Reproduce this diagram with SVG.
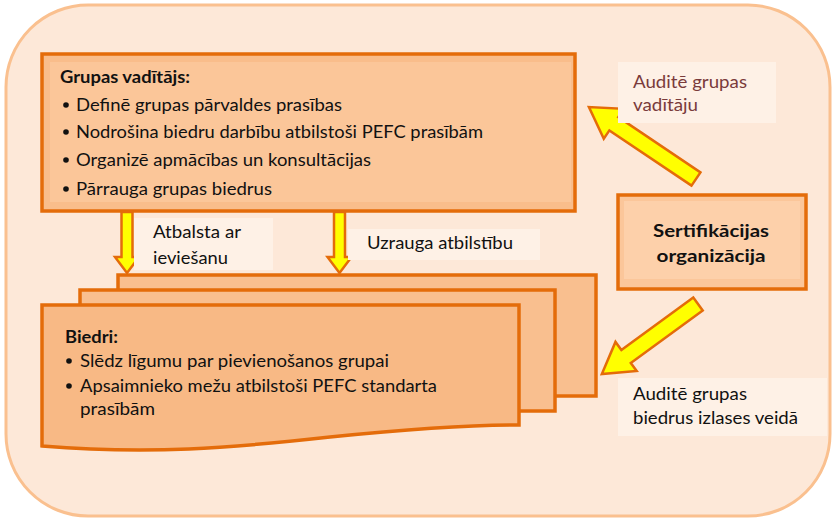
<svg xmlns="http://www.w3.org/2000/svg" width="833" height="520" viewBox="0 0 833 520">
<style>
.box{stroke:#e46c0a;stroke-width:3.5;}
.t{font-family:Lato,"Open Sans","Noto Sans",sans-serif;font-size:16.5px;fill:#111;}
.b{font-weight:bold;}
.arr{fill:#ffff00;stroke:#e46c0a;stroke-width:2.5;stroke-linejoin:miter;}
.lbl{fill:#fef1e6;}
</style>
<rect x="6" y="5" width="824" height="511" rx="82" fill="#fde8d8" stroke="#fac08f" stroke-width="3"/>

<g id="grupas-vaditajs">
<rect class="box" x="42" y="54" width="533" height="157" fill="#f9bd8b"/>
<rect x="50" y="62" width="521" height="140" fill="#fbc699"/>
<text class="t b" x="60" y="83" textLength="130" lengthAdjust="spacingAndGlyphs">Grupas vadītājs:</text>
<circle cx="66" cy="105" r="2.8" fill="#111"/>
<text class="t" x="76" y="111" textLength="266" lengthAdjust="spacingAndGlyphs">Definē grupas pārvaldes prasības</text>
<circle cx="66" cy="132" r="2.8" fill="#111"/>
<text class="t" x="76" y="138" textLength="407" lengthAdjust="spacingAndGlyphs">Nodrošina biedru darbību atbilstoši PEFC prasībām</text>
<circle cx="66" cy="160" r="2.8" fill="#111"/>
<text class="t" x="76" y="166" textLength="295" lengthAdjust="spacingAndGlyphs">Organizē apmācības un konsultācijas</text>
<circle cx="66" cy="189" r="2.8" fill="#111"/>
<text class="t" x="76" y="195" textLength="196" lengthAdjust="spacingAndGlyphs">Pārrauga grupas biedrus</text>
</g>

<g id="sertifikacijas-organizacija">
<rect class="box" x="618" y="195" width="188" height="94" fill="#fbc69a"/>
<rect x="624" y="201" width="176" height="78" fill="#fdd0aa"/>
<text class="t b" x="711" y="237" text-anchor="middle" font-size="19.5" textLength="116" lengthAdjust="spacingAndGlyphs">Sertifikācijas</text>
<text class="t b" x="711" y="262" text-anchor="middle" font-size="19.5" textLength="109" lengthAdjust="spacingAndGlyphs">organizācija</text>
</g>

<g id="biedri">
<rect class="box" x="118" y="275" width="478" height="121" fill="#f9bf8f"/>
<rect class="box" x="80" y="290" width="475" height="121" fill="#f9bf8f"/>
<path class="box" d="M42,305 H519 V425 C470,425 420,428 330,437 C230,448 150,455 42,446 Z" fill="#f8b985"/>
<text class="t b" x="65" y="343" textLength="53" lengthAdjust="spacingAndGlyphs">Biedri:</text>
<circle cx="69" cy="361" r="2.8" fill="#111"/>
<text class="t" x="80" y="367" textLength="309" lengthAdjust="spacingAndGlyphs">Slēdz līgumu par pievienošanos grupai</text>
<circle cx="69" cy="386" r="2.8" fill="#111"/>
<text class="t" x="80" y="392" textLength="357" lengthAdjust="spacingAndGlyphs">Apsaimnieko mežu atbilstoši PEFC standarta</text>
<text class="t" x="80" y="415" textLength="75" lengthAdjust="spacingAndGlyphs">prasībām</text>
</g>

<g id="connectors">
<polygon class="arr" points="121.5,212 132.5,212 132.5,257 139,257 127,273 115,257 121.5,257"/>
<polygon class="arr" points="334,212 345,212 345,257 351.5,257 339.5,273 327.5,257 334,257"/>
<polygon class="arr" transform="translate(696,179) rotate(213.9)" points="0,-8 99,-8 99,-18 129,0 99,18 99,8 0,8"/>
<polygon class="arr" transform="translate(698,304) rotate(143.9)" points="0,-8 89,-8 89,-18 119,0 89,18 89,8 0,8"/>
</g>

<g id="labels">
<rect class="lbl" x="134" y="218" width="139" height="52"/>
<text class="t" x="153" y="238" textLength="88" lengthAdjust="spacingAndGlyphs">Atbalsta ar</text>
<text class="t" x="153" y="264" textLength="75" lengthAdjust="spacingAndGlyphs">ieviešanu</text>
<rect class="lbl" x="348" y="229" width="192" height="31"/>
<text class="t" x="367" y="249" textLength="146" lengthAdjust="spacingAndGlyphs">Uzrauga atbilstību</text>
<rect class="lbl" x="618" y="62" width="158" height="61"/>
<text class="t" x="633" y="88" style="fill:#7a3b3b" textLength="114" lengthAdjust="spacingAndGlyphs">Auditē grupas</text>
<text class="t" x="633" y="111" style="fill:#7a3b3b" textLength="65" lengthAdjust="spacingAndGlyphs">vadītāju</text>
<rect class="lbl" x="618" y="378" width="209" height="58"/>
<text class="t" x="633" y="400" textLength="114" lengthAdjust="spacingAndGlyphs">Auditē grupas</text>
<text class="t" x="633" y="424" textLength="165" lengthAdjust="spacingAndGlyphs">biedrus izlases veidā</text>
</g>
</svg>
